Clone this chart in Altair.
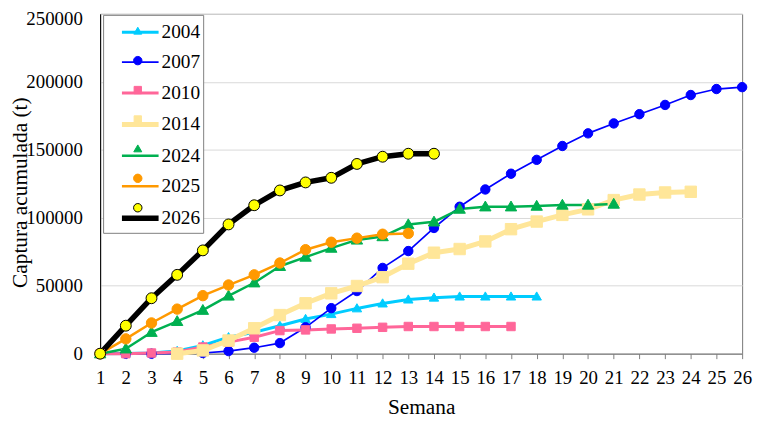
import altair as alt
import pandas as pd

FONT = "Liberation Serif"

series = ["2004", "2007", "2010", "2014", "2024", "2025", "2026"]
start_week = [1, 1, 1, 4, 1, 1, 1]

v2004 = [0, 200, 600, 2000, 6100, 12100, 15800, 20600, 25500, 29100, 33300,
         36900, 39800, 41200, 42000, 42000, 42000, 42000]
v2007 = [0, 0, 0, 200, 500, 1900, 4400, 7800, 19400, 33500, 46100, 63100,
         75500, 92500, 108100, 120800, 132400, 142600, 152800, 162100, 169400,
         176200, 183000, 190300, 194700, 196100]
v2010 = [0, 0, 500, 1200, 4900, 8500, 12100, 17000, 17500, 18200, 18700,
         19400, 20000, 20000, 20000, 20000, 20000]
v2014 = [0, 2400, 9700, 18700, 28400, 37100, 44400, 49800, 56300, 66200,
         74300, 77000, 82600, 91600, 97200, 102100, 106200, 113000, 117100,
         118600, 119100]
v2024 = [0, 3600, 15800, 23800, 32000, 42500, 52200, 64300, 71100, 77700,
         83700, 86200, 95000, 97000, 106400, 108100, 108100, 108600, 109400,
         109400, 110100]
v2025 = [0, 10900, 22600, 32800, 42700, 50500, 58000, 66700, 76500, 82000,
         85000, 87900, 88500]
v2026 = [0, 20600, 40800, 58000, 76000, 95100, 109200, 120100, 126000,
         129400, 139600, 144900, 147100, 147100]

x_ticks = list(range(1, 27))
y_ticks = [0, 50000, 100000, 150000, 200000, 250000]

line_colors = ["#00CCFF", "#0000FF", "#FF6699", "#FFE699", "#00B050", "#FF9900", "#000000"]
fill_colors = ["#00CCFF", "#0000FF", "#FF6699", "#FFE699", "#00B050", "#FF9900", "#FFFF00"]
line_widths = [3, 1.7, 3, 5, 2.5, 2.5, 5.5]

# marker glyphs drawn small inside the unit box so legend rows stay compact
TRI = "M0,-0.31L0.31,0.227L-0.31,0.227Z"
CIR = "M0.327,0A0.327,0.327 0 1,1 -0.327,0A0.327,0.327 0 1,1 0.327,0Z"
SQR = "M-0.285,-0.285H0.285V0.285H-0.285Z"
LEG_LINE = "M-1.423,0H1.423"
marker_shapes = [TRI, CIR, SQR, SQR, TRI, CIR, CIR]
marker_sizes = [939, 844, 889, 1628, 1376, 1031, 1131]

rows = []
for s, w0, vals in zip(series, start_week, [v2004, v2007, v2010, v2014, v2024, v2025, v2026]):
    for i, v in enumerate(vals):
        rows.append({"serie": s, "semana": w0 + i, "captura": v})
df = pd.DataFrame(rows)

x = alt.X(
    "semana:Q",
    scale=alt.Scale(domain=[1, 26], nice=False, zero=False),
    axis=alt.Axis(
        values=x_ticks, format="d", title="Semana", grid=False,
        labelFont=FONT, labelFontSize=19, labelColor="black", labelPadding=10,
        labelFlush=False, labelOverlap=False,
        tickSize=5, tickColor="#808080", domainColor="#767676",
        titleFont=FONT, titleFontSize=21.5, titleFontWeight="normal",
        titleColor="black", titleBaseline="alphabetic", titleY=60,
    ),
)
y = alt.Y(
    "captura:Q",
    scale=alt.Scale(domain=[0, 250000], nice=False),
    axis=alt.Axis(
        values=y_ticks, format="d", title="Captura acumulada (t)",
        labelFont=FONT, labelFontSize=19, labelColor="black", labelPadding=18,
        labelOffset={"condition": {"test": "datum.value == 250000", "value": 5}, "value": 0},
        ticks=False, domainColor="black", gridColor="#d9d9d9", gridWidth=1,
        titleFont=FONT, titleFontSize=21.5, titleFontWeight="normal",
        titleColor="black", titleBaseline="alphabetic", titleX=-74, titleY=180,
    ),
)

common_legend = dict(
    orient="none", legendX=3, legendY=1, title=None, symbolSize=676,
    labelFont=FONT, labelFontSize=19.5, labelColor="black",
    rowPadding=6.7, padding=3, symbolOffset=18.5, labelOffset=5.5,
)
legend_line = alt.Legend(
    symbolType=LEG_LINE, strokeColor="#808080", fillColor="white", zindex=1,
    **common_legend,
)
# marker-only legend laid exactly over the line legend (its labels are blank)
legend_pt = alt.Legend(
    labelOpacity=0, labelExpr="' '", symbolStrokeWidth=1, zindex=2, **common_legend,
)

lines = alt.Chart(df).mark_line(strokeJoin="round", strokeCap="round").encode(
    x=x, y=y,
    stroke=alt.Stroke("serie:N", scale=alt.Scale(domain=series, range=line_colors), legend=legend_line),
    strokeWidth=alt.StrokeWidth("serie:N", scale=alt.Scale(type="ordinal", domain=series, range=line_widths), legend=legend_line),
)

points = alt.Chart(df).mark_point(filled=True, opacity=1, strokeWidth=1).encode(
    x=x, y=y,
    fill=alt.Fill("serie:N", scale=alt.Scale(domain=series, range=fill_colors), legend=legend_pt),
    stroke=alt.Stroke("serie:N", scale=alt.Scale(domain=series, range=line_colors), legend=legend_pt),
    shape=alt.Shape("serie:N", scale=alt.Scale(domain=series, range=marker_shapes), legend=legend_pt),
    # implicit (data-sorted) domain so this hidden size legend is not merged with the fill legend
    size=alt.Size("serie:N", scale=alt.Scale(type="ordinal", range=marker_sizes), legend=None),
)

chart = alt.layer(lines, points).resolve_scale(
    stroke="independent", strokeWidth="independent", fill="independent",
    shape="independent", size="independent",
).resolve_legend(
    stroke="independent", strokeWidth="independent", fill="independent",
    shape="independent", size="independent",
).properties(
    width=648, height=343,
    autosize=alt.AutoSizeParams(type="none"),
    padding={"left": 93, "top": 4, "right": 14, "bottom": 64},
).configure(font=FONT).configure_axis(
    labelFont=FONT, titleFont=FONT
).configure_legend(labelFont=FONT).configure_view(stroke="#767676", strokeWidth=1)

chart.save("out.html", embed_options={"renderer": "svg", "actions": False})
